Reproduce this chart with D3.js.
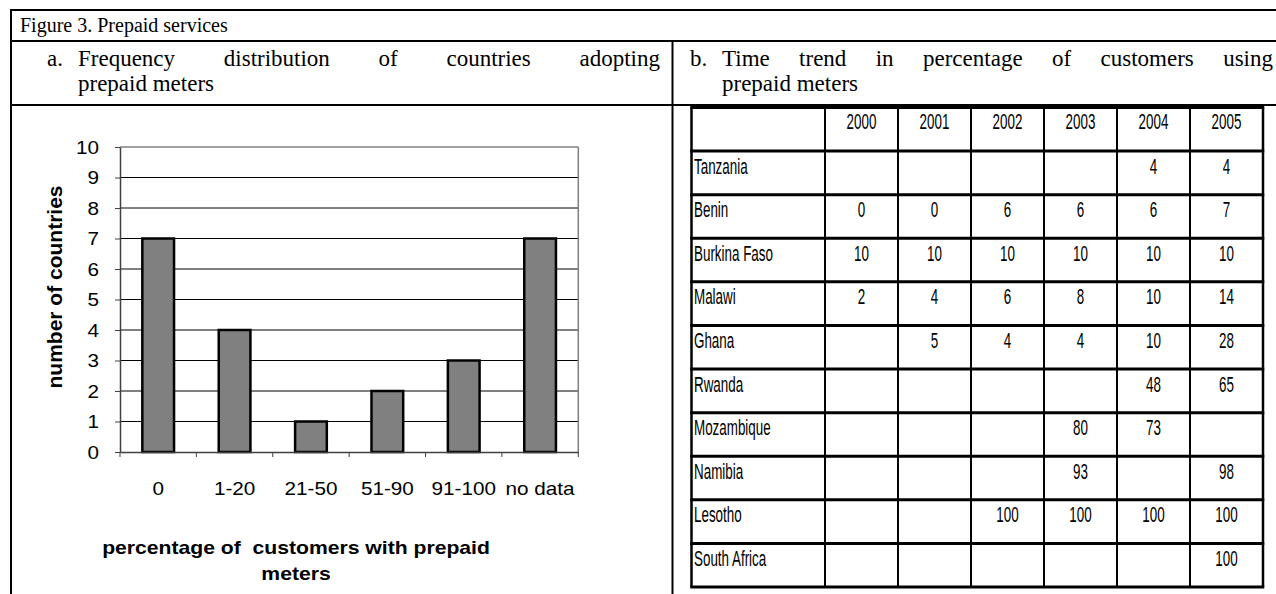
<!DOCTYPE html>
<html><head><meta charset="utf-8">
<script src="https://cdn.jsdelivr.net/npm/d3@7"></script>
<style>html,body{margin:0;padding:0;background:#fff;overflow:hidden}svg{display:block}</style>
</head><body>
<svg id="fig" width="1276" height="594"></svg>
<script>
// ---------- data ----------
const figureTitle = "Figure 3. Prepaid services";
const panelALabel = "a.";
const panelALines = ["Frequency distribution of countries adopting", "prepaid meters"];
const panelBLabel = "b.";
const panelBLines = ["Time trend in percentage of customers using", "prepaid meters"];

const categories = ["0", "1-20", "21-50", "51-90", "91-100", "no data"];
const counts = [7, 4, 1, 2, 3, 7];
const yTicks = [0, 1, 2, 3, 4, 5, 6, 7, 8, 9, 10];
const yTitle = "number of countries";
const xTitleLines = ["percentage of  customers with prepaid", "meters"];

const years = ["2000", "2001", "2002", "2003", "2004", "2005"];
const countries = ["Tanzania", "Benin", "Burkina Faso", "Malawi", "Ghana", "Rwanda", "Mozambique", "Namibia", "Lesotho", "South Africa"];
const tanzania    = [null, null, null, null, 4, 4];
const benin       = [0, 0, 6, 6, 6, 7];
const burkinaFaso = [10, 10, 10, 10, 10, 10];
const malawi      = [2, 4, 6, 8, 10, 14];
const ghana       = [null, 5, 4, 4, 10, 28];
const rwanda      = [null, null, null, null, 48, 65];
const mozambique  = [null, null, null, 80, 73, null];
const namibia     = [null, null, null, 93, null, 98];
const lesotho     = [null, null, 100, 100, 100, 100];
const southAfrica = [null, null, null, null, null, 100];
const tableValues = [tanzania, benin, burkinaFaso, malawi, ghana, rwanda, mozambique, namibia, lesotho, southAfrica];

// ---------- drawing ----------
const svg = d3.select("#fig");
const SERIF = "'Liberation Serif','Times New Roman',serif";
const SANS = "'Liberation Sans',Arial,sans-serif";
const NARROW = "'Liberation Sans Narrow','Arial Narrow','Liberation Sans',Arial,sans-serif";

function line(g, x1, y1, x2, y2, w, c) {
  return g.append("line").attr("x1", x1).attr("y1", y1).attr("x2", x2).attr("y2", y2)
    .attr("stroke", c || "#000").attr("stroke-width", w);
}

// frame
const frame = svg.append("g");
line(frame, 10, 10, 1276, 10, 2);
line(frame, 11, 9, 11, 594, 2);
line(frame, 10, 41, 1276, 41, 2);
line(frame, 10, 105, 1276, 105, 2);
line(frame, 672.5, 41, 672.5, 594, 2);

// header texts
function serifText(x, y, s, size) {
  return svg.append("text").attr("x", x).attr("y", y).attr("font-family", SERIF)
    .attr("font-size", size).attr("fill", "#000").text(s);
}
function justify(x1, x2, y, s, size) {
  const words = s.split(" ");
  const els = words.map(w => serifText(0, y, w, size));
  const widths = els.map(e => e.node().getComputedTextLength());
  const gap = (x2 - x1 - d3.sum(widths)) / (words.length - 1);
  let x = x1;
  els.forEach((e, i) => { e.attr("x", x); x += widths[i] + gap; });
}
const HS = 23;
serifText(20, 32, figureTitle, 20);
serifText(47, 66, panelALabel, HS);
justify(78, 660, 66, panelALines[0], HS);
serifText(78, 91, panelALines[1], HS);
serifText(690, 66, panelBLabel, HS);
justify(722, 1273, 66, panelBLines[0], HS);
serifText(722, 91, panelBLines[1], HS);

// ---------- bar chart ----------
const chart = svg.append("g");
const x = d3.scaleBand().domain(categories).range([120, 578.3]).paddingInner(0.585).paddingOuter(0.2925);
const y = d3.scaleLinear().domain([0, 10]).range([452, 147]);
const SX = 1.15;

chart.append("g").selectAll("line").data(yTicks.filter(t => t > 0)).join("line")
  .attr("x1", 120).attr("x2", 578.3).attr("y1", d => y(d)).attr("y2", d => y(d))
  .attr("stroke", d => d === 10 ? "#808080" : "#000").attr("stroke-width", d => d === 10 ? 1.5 : 1);
line(chart, 578.3, y(0), 578.3, y(10), 1.5, "#808080");

chart.append("g").selectAll("rect").data(categories).join("rect")
  .attr("x", d => x(d)).attr("width", x.bandwidth())
  .attr("y", (d, i) => y(counts[i])).attr("height", (d, i) => y(0) - y(counts[i]))
  .attr("fill", "#808080").attr("stroke", "#000").attr("stroke-width", 2.5);

const yAxis = chart.append("g").attr("transform", "translate(120,0)")
  .call(d3.axisLeft(y).tickValues(yTicks).tickSize(5).tickSizeOuter(0).tickFormat(d3.format("d")));
yAxis.select(".domain").attr("stroke", "#404040").attr("stroke-width", 1.5);
yAxis.selectAll(".tick line").attr("stroke", "#404040").attr("stroke-width", 1);
yAxis.selectAll(".tick text").attr("x", 0).attr("dy", "0.36em")
  .attr("transform", `translate(-21,0) scale(${SX},1)`)
  .attr("font-family", SANS).attr("font-size", 18).attr("fill", "#000");

const xAxis = chart.append("g").attr("transform", `translate(0,${y(0)})`)
  .call(d3.axisBottom(x).tickSize(0).tickSizeOuter(0));
xAxis.select(".domain").attr("stroke", "#404040").attr("stroke-width", 1.5);
xAxis.selectAll(".tick text").attr("y", 0).attr("dy", 0)
  .attr("transform", `translate(0,43) scale(${SX},1)`)
  .attr("font-family", SANS).attr("font-size", 18).attr("fill", "#000");
const bounds = d3.range(categories.length + 1).map(i => x.range()[0] + i * x.step());
chart.append("g").selectAll("line").data(bounds).join("line")
  .attr("x1", d => d).attr("x2", d => d).attr("y1", y(0)).attr("y2", y(0) + 5)
  .attr("stroke", "#404040").attr("stroke-width", 1);

chart.append("text").attr("transform", "translate(62,287) rotate(-90)")
  .attr("text-anchor", "middle").attr("font-family", SANS).attr("font-weight", "bold")
  .attr("font-size", 21).text(yTitle);
const xt = xTitleLines.map(s => chart.append("text").attr("x", 0).attr("y", 0)
  .attr("text-anchor", "middle").attr("font-family", SANS).attr("font-weight", "bold")
  .attr("font-size", 19).style("white-space", "pre").text(s));
const xtScale = 388 / xt[0].node().getComputedTextLength();
xt.forEach((t, i) => t.attr("transform", `translate(296,${554 + i * 26}) scale(${xtScale},1)`));

// ---------- table ----------
const table = svg.append("g");
const colX = d3.scaleBand().domain(years).range([825, 1263]);
const rowKeys = [""].concat(countries);
const rowY = d3.scaleBand().domain(rowKeys).range([107.5, 587]);
const tableLeft = 691.5, tableRight = 1263;
const TF = 22;

const probe = table.append("text").attr("font-family", NARROW).attr("font-size", TF).text("Burkina Faso");
const TSX = 79 / probe.node().getComputedTextLength();
probe.remove();

function cellText(xp, yp, s, anchor) {
  table.append("text").attr("transform", `translate(${xp},${yp}) scale(${TSX},1)`)
    .attr("text-anchor", anchor).attr("font-family", NARROW).attr("font-size", TF)
    .attr("fill", "#000").text(s);
}
years.forEach(yr => cellText(colX(yr) + colX.bandwidth() / 2, rowY("") + 21, yr, "middle"));
countries.forEach((c, i) => {
  cellText(tableLeft + 2.5, rowY(c) + 22.5, c, "start");
  tableValues[i].forEach((v, j) => {
    if (v !== null) cellText(colX(years[j]) + colX.bandwidth() / 2, rowY(c) + 22.5, String(v), "middle");
  });
});

rowKeys.concat(["_end"]).forEach((k, i) => {
  const yy = rowY.range()[0] + i * rowY.step();
  line(table, tableLeft - 1.25, yy, tableRight + 1.25, yy, 3);
});
const vx = [tableLeft, colX.range()[0]].concat(years.map(yr => colX(yr) + colX.bandwidth()));
vx.forEach((xx, i) => {
  const w = (i === 0 || i === vx.length - 1) ? 2.5 : 2;
  line(table, xx, rowY.range()[0], xx, rowY.range()[1], w);
});
</script>
</body></html>
